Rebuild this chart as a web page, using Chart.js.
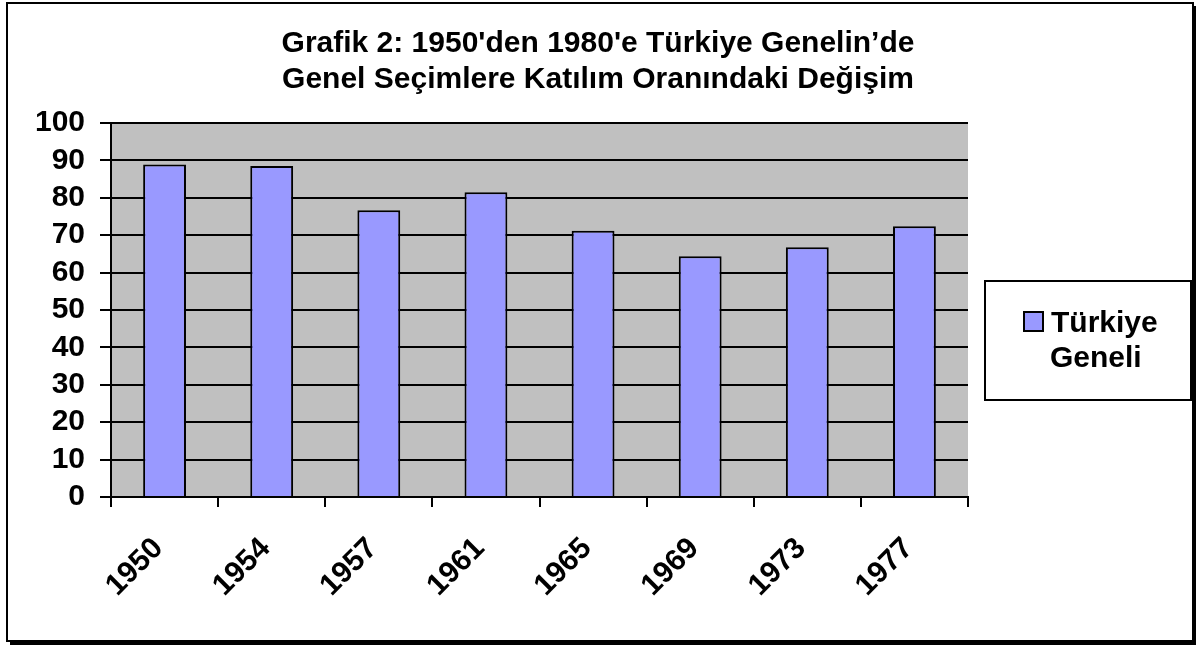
<!DOCTYPE html>
<html>
<head>
<meta charset="utf-8">
<script src="https://cdn.jsdelivr.net/npm/chart.js@4.4.1/dist/chart.umd.min.js"></script>
<style>
  html, body { margin: 0; padding: 0; background: #fff; }
  #wrap { width: 1196px; height: 645px; position: relative; }
</style>
</head>
<body>
<div id="wrap"><canvas id="turnoutChart" width="1196" height="645"></canvas></div>
<script>
const years = ["1950", "1954", "1957", "1961", "1965", "1969", "1973", "1977"];
const turnout = [88.9, 88.5, 76.7, 81.5, 71.2, 64.4, 66.8, 72.4];
const yTicks = [0, 10, 20, 30, 40, 50, 60, 70, 80, 90, 100];
const seriesName = "Türkiye Geneli";
const titleLines = ["Grafik 2: 1950'den 1980'e Türkiye Genelin’de", "Genel Seçimlere Katılım Oranındaki Değişim"];

const FONT = "'Liberation Sans', Arial, sans-serif";
const barColor = "#9999FF";

// gray plot area goes under the grid lines
const plotBackground = {
  id: "plotBackground",
  beforeDraw(chart) {
    const { ctx, chartArea } = chart;
    ctx.save();
    ctx.fillStyle = "#C0C0C0";
    ctx.fillRect(chartArea.left, chartArea.top, chartArea.right - chartArea.left, chartArea.bottom - chartArea.top);
    ctx.restore();
  }
};

// title, frame and the boxed legend, Excel style
const excelLook = {
  id: "excelLook",
  afterDraw(chart) {
    const { ctx } = chart;
    ctx.save();

    ctx.fillStyle = "#000";
    ctx.font = "bold 30px " + FONT;
    ctx.textAlign = "center";
    ctx.textBaseline = "middle";
    titleLines.forEach((line, i) => ctx.fillText(line, 598, 44 + i * 36));

    // outer frame with small shadow
    ctx.fillRect(1193, 6, 3, 639);
    ctx.fillRect(10, 641, 1186, 4);
    ctx.strokeStyle = "#000";
    ctx.lineWidth = 2;
    ctx.strokeRect(7, 3, 1186, 638);

    // legend
    const ds = chart.data.datasets[0];
    ctx.strokeRect(985, 281, 206, 119);
    ctx.fillStyle = ds.backgroundColor;
    ctx.fillRect(1024, 312, 19, 19);
    ctx.strokeRect(1024, 312, 19, 19);
    const words = ds.label.split(" ");
    ctx.fillStyle = "#000";
    ctx.font = "bold 30px " + FONT;
    ctx.textBaseline = "alphabetic";
    ctx.textAlign = "left";
    ctx.fillText(words[0], 1051, 332);
    ctx.fillText(words[1], 1050, 367);
    ctx.restore();
  }
};

new Chart(document.getElementById("turnoutChart"), {
  type: "bar",
  data: {
    labels: years,
    datasets: [{
      label: seriesName,
      data: turnout,
      backgroundColor: barColor,
      borderColor: "#000",
      borderWidth: 2,
      barPercentage: 0.4,
      categoryPercentage: 1.0
    }]
  },
  options: {
    responsive: false,
    animation: false,
    devicePixelRatio: 1,
    layout: { padding: { left: 0, right: 228, top: 123, bottom: 0 } },
    plugins: {
      legend: { display: false },
      tooltip: { enabled: false },
      title: { display: false }
    },
    scales: {
      x: {
        offset: true,
        grid: { display: true, drawOnChartArea: false, drawTicks: true, tickLength: 10, color: "#000", lineWidth: 2, offset: true },
        border: { display: true, color: "#000", width: 2 },
        ticks: {
          color: "#000",
          font: { family: FONT, size: 30, weight: "bold" },
          minRotation: 45,
          maxRotation: 45,
          autoSkip: false,
          labelOffset: -6,
          padding: 24
        },
        afterFit(scale) { scale.height = 148; }
      },
      y: {
        min: 0,
        max: 100,
        afterBuildTicks(scale) { scale.ticks = yTicks.map(v => ({ value: v })); },
        grid: { color: "#000", lineWidth: 2, tickLength: 11 },
        border: { display: true, color: "#000", width: 2 },
        ticks: {
          color: "#000",
          autoSkip: false,
          font: { family: FONT, size: 30, weight: "bold" },
          padding: 15
        },
        afterFit(scale) { scale.width = 111; }
      }
    }
  },
  plugins: [plotBackground, excelLook]
});
</script>
</body>
</html>
